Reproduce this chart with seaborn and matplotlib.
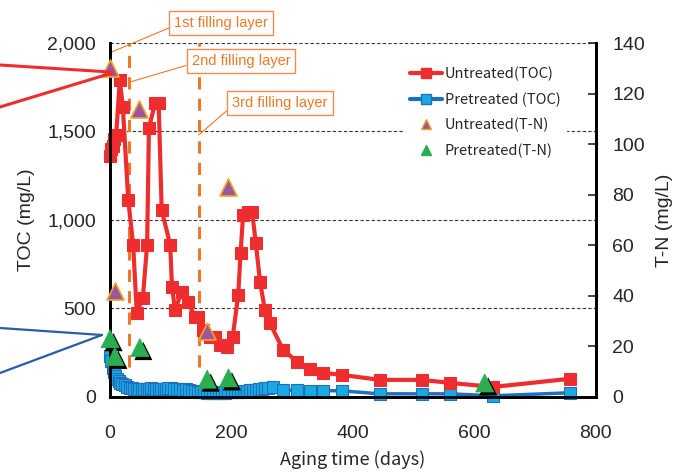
import matplotlib
matplotlib.use('Agg')
import matplotlib.pyplot as plt
import matplotlib.patheffects as pe
from matplotlib.lines import Line2D
import seaborn as sns

# Untreated TOC (mg/L)
red_days = [0, 2, 4, 7, 10, 16, 21, 30, 38, 44, 54, 61, 64, 74, 80, 85, 99, 102, 107, 118,
            128, 140, 145, 153, 165, 173, 181, 192, 202, 211, 215, 219, 227, 234, 240, 247,
            255, 263, 285, 308, 329, 351, 382, 444, 513, 560, 631, 757]
red_toc = [1360, 1400, 1420, 1460, 1480, 1790, 1640, 1110, 860, 475, 560, 860, 1520, 1660, 1660,
           1056, 860, 622, 492, 593, 537, 452, 452, 380, 339, 339, 294, 282, 339, 576, 814, 1028,
           1045, 1045, 870, 650, 492, 418, 266, 198, 158, 136, 124, 96, 96, 79, 56, 102]

# Pretreated TOC (mg/L)
blue_days = [0, 2, 4, 6, 8, 11, 14, 17, 20, 24, 28, 32, 36, 40,
             44, 48, 52, 56, 60, 64, 68, 72, 76, 80, 84, 88, 92, 96, 100,
             105, 110, 115, 120, 125, 130, 135, 140, 145, 150,
             155, 160, 165, 170, 175, 180, 185, 190, 195, 200,
             205, 210, 215, 220, 225, 230, 235, 240, 245, 250, 255, 260,
             268, 285, 308, 329, 351, 382, 444, 513, 560, 631, 757]
blue_toc = [230, 200, 165, 140, 120, 100, 90, 80, 72, 65, 58, 52, 48, 45,
            44, 42, 45, 43, 46, 44, 48, 45, 47, 44, 46, 43, 45, 48, 50,
            47, 45, 42, 40, 44, 38, 35, 33, 30, 28,
            26, 24, 22, 25, 23, 20, 22, 24, 25, 26,
            28, 27, 30, 32, 34, 36, 38, 40, 43, 46, 49, 52,
            55, 40, 36, 35, 35, 34, 17, 17, 17, 6, 23]

# T-N (mg/L)
un_tn_days = [0, 8, 48, 160, 194]
un_tn = [130, 42, 114, 26, 83]
pre_tn_days = [0, 8, 49, 160, 195, 617]
pre_tn = [23, 16, 19.5, 7, 7.5, 5.5]

# filling layers
fill_days = [31, 146]
fill_labels = ['1st filling layer', '2nd filling layer', '3rd filling layer']

RED = '#EE2E2E'
BLUE_LINE = '#1F6FBF'
BLUE_FACE = '#1BA9E1'
PURPLE = '#9B55A3'
GOLD = '#F2A81D'
GREEN = '#2BAE4F'
ORANGE = '#F07828'

sns.set_style('white')
plt.rcParams['font.family'] = ['Liberation Sans Narrow', 'Liberation Sans', 'DejaVu Sans']

fig = plt.figure(figsize=(6.88, 4.73), dpi=100)
ax = fig.add_axes([0.16, 0.161, 0.706, 0.748])
ax2 = ax.twinx()

# horizontal dashed grid on TOC axis
for yv in [500, 1000, 1500, 2000]:
    ax.axhline(yv, color='#333333', lw=0.8, ls=(0, (3, 2)), zorder=1)

# filling layer lines
for d in fill_days:
    ax.vlines(d, 170, 2000, color=ORANGE, lw=2.2, ls=(0, (4, 3)), zorder=2)

sns.lineplot(x=blue_days, y=blue_toc, ax=ax, color=BLUE_LINE, lw=2.5, marker='s',
             markersize=8, markerfacecolor=BLUE_FACE, markeredgecolor=BLUE_LINE,
             markeredgewidth=0.8, estimator=None, sort=False, clip_on=False, zorder=3)
sns.lineplot(x=red_days, y=red_toc, ax=ax, color=RED, lw=3, marker='s',
             markersize=9, markerfacecolor=RED, markeredgecolor=RED,
             estimator=None, sort=False, clip_on=False, zorder=4)

sns.scatterplot(x=un_tn_days, y=un_tn, ax=ax2, marker='^', s=150, color=PURPLE,
                edgecolor=GOLD, linewidth=1.2, clip_on=False, zorder=5)
pts = sns.scatterplot(x=pre_tn_days, y=pre_tn, ax=ax2, marker='^', s=170, color=GREEN,
                      edgecolor=GREEN, linewidth=0.5, clip_on=False, zorder=5)
pts.collections[-1].set_path_effects([
    pe.SimplePatchShadow(offset=(2.5, -2.5), shadow_rgbFace='black', alpha=1.0),
    pe.Normal()])

ax.set_xlim(0, 800)
ax.set_ylim(0, 2000)
ax2.set_ylim(0, 140)
ax.set_xticks([0, 200, 400, 600, 800])
ax.set_yticks([0, 500, 1000, 1500, 2000])
ax.set_yticklabels(['0', '500', '1,000', '1,500', '2,000'])
ax2.set_yticks(range(0, 141, 20))

for a in (ax, ax2):
    a.spines['top'].set_visible(False)
    for s in ['left', 'right', 'bottom']:
        a.spines[s].set_color('black')
        a.spines[s].set_linewidth(2)
ax.tick_params(axis='x', length=0, labelsize=14, pad=20)
ax.tick_params(axis='y', length=0, labelsize=14, pad=10)
ax2.tick_params(axis='y', direction='in', length=6, width=1.2, labelsize=14, pad=12)

ax.set_xlabel('Aging time (days)', fontsize=13, family=['Noto Sans CJK JP', 'DejaVu Sans'],
              labelpad=6)
ax.set_ylabel('TOC (mg/L)', fontsize=14, labelpad=9)
ax2.set_ylabel('T-N (mg/L)', fontsize=14, labelpad=8)

# filling layer labels
box = dict(boxstyle='square,pad=0.35', fc='white', ec='#F08C50', lw=1)
arrow = dict(arrowstyle='-', color=ORANGE, lw=0.8, shrinkA=0, shrinkB=0)
ax.annotate(fill_labels[0], xy=(3, 1950), xytext=(221, 450), textcoords='figure pixels',
            ha='center', va='center', color=ORANGE, fontsize=10.5, bbox=box,
            arrowprops=dict(arrow, relpos=(0, 0.3)), annotation_clip=False, zorder=6)
ax.annotate(fill_labels[1], xy=(fill_days[0] + 2, 1780), xytext=(241, 412),
            textcoords='figure pixels', ha='center', va='center', color=ORANGE,
            fontsize=10.5, bbox=box, arrowprops=dict(arrow, relpos=(0, 0.3)), zorder=6)
ax.annotate(fill_labels[2], xy=(fill_days[1], 1480), xytext=(280, 370),
            textcoords='figure pixels', ha='center', va='center', color=ORANGE,
            fontsize=10.5, bbox=box, arrowprops=dict(arrow, relpos=(0, 0.3)), zorder=6)

# stray leader lines at the left edge
fig.add_artist(Line2D([0, 110 / 688], [1 - 65 / 473, 1 - 72 / 473], color=RED, lw=2.2))
fig.add_artist(Line2D([0, 112 / 688], [1 - 107 / 473, 1 - 73 / 473], color=RED, lw=2.2))
fig.add_artist(Line2D([0, 102 / 688], [1 - 328 / 473, 1 - 335 / 473], color='#2A5CAA', lw=1.6))
fig.add_artist(Line2D([0, 102 / 688], [1 - 373 / 473, 1 - 335 / 473], color='#2A5CAA', lw=1.6))

# legend
handles = [
    Line2D([], [], color=RED, lw=3, marker='s', markersize=7, markerfacecolor=RED),
    Line2D([], [], color=BLUE_LINE, lw=3, marker='s', markersize=7,
           markerfacecolor=BLUE_FACE, markeredgecolor=BLUE_LINE),
    Line2D([], [], ls='none', marker='^', markersize=7, markerfacecolor=PURPLE,
           markeredgecolor=GOLD),
    Line2D([], [], ls='none', marker='^', markersize=7, markerfacecolor=GREEN,
           markeredgecolor=GREEN),
]
labels = ['Untreated(TOC)', 'Pretreated (TOC)', 'Untreated(T-N)', 'Pretreated(T-N)']
leg = ax2.legend(handles, labels, loc='upper left', bbox_to_anchor=(0.59, 0.97),
                 frameon=True, fancybox=False, edgecolor='white', framealpha=1,
                 handlelength=2.2, handletextpad=0.2, labelspacing=0.75,
                 prop={'family': ['Noto Sans CJK JP', 'DejaVu Sans'], 'size': 10.5})
leg.set_zorder(10)

fig.savefig('out.png', dpi=100)
